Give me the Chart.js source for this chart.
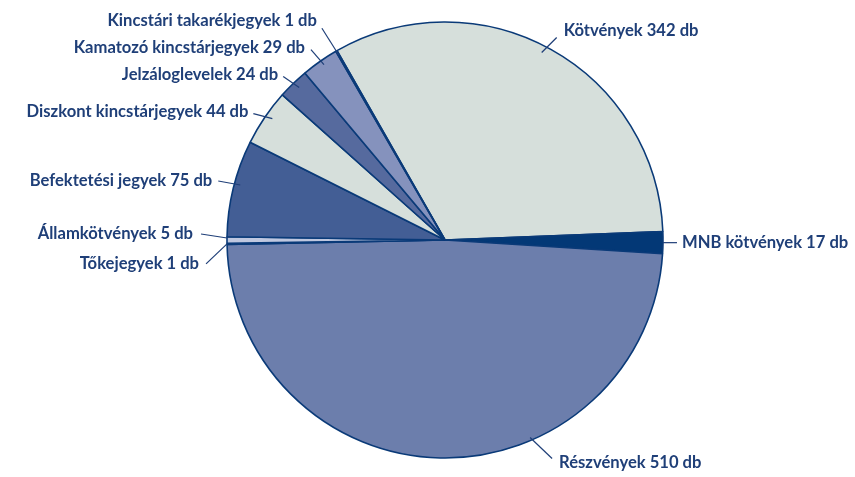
<!DOCTYPE html>
<html>
<head>
<meta charset="utf-8">
<script src="https://cdn.jsdelivr.net/npm/chart.js@4.4.1/dist/chart.umd.min.js"></script>
<style>
  html, body { margin: 0; padding: 0; background: #ffffff; }
  #wrap { width: 855px; height: 477px; }
</style>
</head>
<body>
<div id="wrap"><canvas id="pieChart" width="855" height="477"></canvas></div>
<script>
// chart data
const categories = [
    "Kötvények",
    "MNB kötvények",
    "Részvények",
    "Tőkejegyek",
    "Államkötvények",
    "Befektetési jegyek",
    "Diszkont kincstárjegyek",
    "Jelzáloglevelek",
    "Kamatozó kincstárjegyek",
    "Kincstári takarékjegyek"
];
const counts = [342, 17, 510, 1, 5, 75, 44, 24, 29, 1];
const sliceColors = [
    "#d6dfdb", "#033876", "#6c7eac", "#0a3a78", "#bfc7df",
    "#435e95", "#d6dfdb", "#566a9e", "#8592bd", "#0a3a78"
];

// where each label sits: position inside the slice, inset from the rim,
// leader line vector, text offset and side
const labelStyle = [
    { frac: 0.485, inset: 7, dx: 15, dy: -15, tx: 7, ty: -7, align: "left" },
    { frac: 0.5, inset: 0, dx: 14, dy: 0, tx: 5, ty: 0, align: "left" },
    { frac: 0.36, inset: 3, dx: 22, dy: 21, tx: 7, ty: 4, align: "left" },
    { frac: 0.5, inset: 0, dx: -21, dy: 20, tx: -7, ty: 0, align: "right" },
    { frac: 0.8, inset: 0, dx: -26, dy: -4, tx: -8, ty: 0, align: "right" },
    { frac: 0.55, inset: 6, dx: -22, dy: -4, tx: -6, ty: 0, align: "right" },
    { frac: 0.56, inset: 7, dx: -19, dy: -5, tx: -5, ty: -2, align: "right" },
    { frac: 0.55, inset: 7, dx: -16, dy: -11, tx: -5, ty: -2, align: "right" },
    { frac: 0.54, inset: 5, dx: -13, dy: -15, tx: -6, ty: -2, align: "right" },
    { frac: 0.5, inset: 5, dx: -17, dy: -27, tx: -5, ty: -8, align: "right" }
];

const textColor = "#1f3f78";

const leaderLabels = {
    id: "leaderLabels",
    afterDatasetsDraw(chart) {
        const ctx = chart.ctx;
        const meta = chart.getDatasetMeta(0);
        ctx.save();
        ctx.font = "bold 16.6px Lato, 'Open Sans', sans-serif";
        ctx.fillStyle = textColor;
        ctx.strokeStyle = textColor;
        ctx.lineWidth = 1.2;
        ctx.textBaseline = "middle";
        meta.data.forEach((arc, i) => {
            const s = labelStyle[i];
            const a = arc.startAngle + s.frac * (arc.endAngle - arc.startAngle);
            const r = arc.outerRadius - s.inset;
            const x0 = arc.x + r * Math.cos(a);
            const y0 = arc.y + r * Math.sin(a);
            const x1 = x0 + s.dx;
            const y1 = y0 + s.dy;
            ctx.beginPath();
            ctx.moveTo(x0, y0);
            ctx.lineTo(x1, y1);
            ctx.stroke();
            ctx.textAlign = s.align;
            ctx.fillText(categories[i] + " " + counts[i] + " db", x1 + s.tx, y1 + s.ty);
        });
        ctx.restore();
    }
};

new Chart(document.getElementById("pieChart").getContext("2d"), {
    type: "pie",
    data: {
        labels: categories,
        datasets: [{
            data: counts,
            backgroundColor: sliceColors,
            borderColor: "#0a3a78",
            borderWidth: 1.6,
            hoverOffset: 0
        }]
    },
    options: {
        responsive: false,
        animation: false,
        rotation: -29.7,
        radius: 218,
        layout: { padding: { left: 35, right: 0, top: 3, bottom: 0 } },
        events: [],
        plugins: {
            legend: { display: false },
            tooltip: { enabled: false }
        }
    },
    plugins: [leaderLabels]
});
</script>
</body>
</html>
